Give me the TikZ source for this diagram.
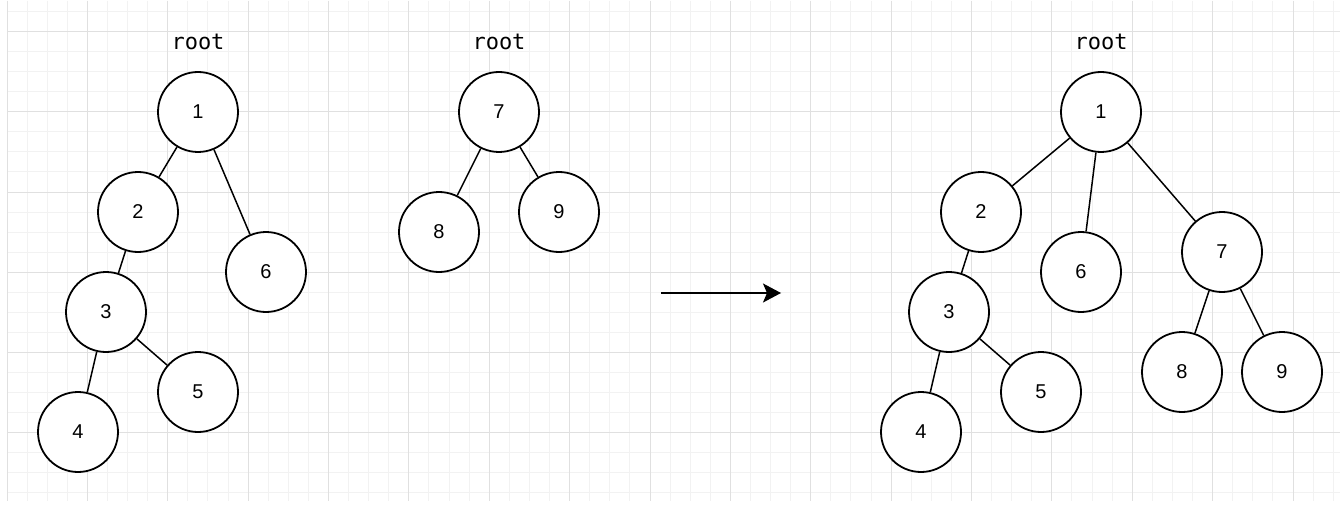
\documentclass[tikz,border=0pt]{standalone}
\usepackage{fontspec}
\setmainfont{Liberation Sans}
\newfontfamily\rootfont{DejaVu Sans Mono}
\usetikzlibrary{arrows.meta}
\definecolor{gridminor}{HTML}{F2F2F2}
\definecolor{gridmajor}{HTML}{E0E0E0}
\tikzset{
  tnode/.style={circle, draw=black, line width=1.8pt, fill=white, minimum size=80pt, inner sep=0pt, font=\fontsize{20}{24}\selectfont},
  rootlbl/.style={inner sep=0pt, font=\rootfont\fontsize{22}{26}\selectfont},
  edge/.style={line width=1.5pt, draw=black},
}
\begin{document}
\begin{tikzpicture}[x=1pt,y=-1pt]
\useasboundingbox (0,0) rectangle (1340,505);
\fill[white] (0,0) rectangle (1340,505);
% grid
\foreach \i in {0,...,66} {
  \pgfmathsetmacro{\xx}{7+\i*20.094}
  \pgfmathtruncatemacro{\m}{mod(\i,4)}
  \ifnum\m=0
    \draw[gridmajor, line width=1pt] (\xx,1) -- (\xx,501);
  \else
    \draw[gridminor, line width=1pt] (\xx,1) -- (\xx,501);
  \fi
}
\foreach \j in {0,...,24} {
  \pgfmathsetmacro{\yy}{12+\j*20}
  \pgfmathtruncatemacro{\m}{mod(\j+3,4)}
  \ifnum\m=0
    \draw[gridmajor, line width=1pt] (7,\yy) -- (1340,\yy);
  \else
    \draw[gridminor, line width=1pt] (7,\yy) -- (1340,\yy);
  \fi
}
\foreach \i in {0,4,...,64} {
  \pgfmathsetmacro{\xx}{7+\i*20.094}
  \draw[gridmajor, line width=1pt] (\xx,1) -- (\xx,501);
}

% left tree
\node[rootlbl] (r1) at (198,42) {root};
\node[tnode] (a1) at (198,112) {1};
\node[tnode] (a2) at (138,212) {2};
\node[tnode] (a6) at (266,272) {6};
\node[tnode] (a3) at (106,312) {3};
\node[tnode] (a5) at (198,392) {5};
\node[tnode] (a4) at (78,432) {4};
\draw[edge] (a1) -- (a2);
\draw[edge] (a1) -- (a6);
\draw[edge] (a2) -- (a3);
\draw[edge] (a3) -- (a4);
\draw[edge] (a3) -- (a5);

% middle tree
\node[rootlbl] (r2) at (499,42) {root};
\node[tnode] (b7) at (499,112) {7};
\node[tnode] (b8) at (439,232) {8};
\node[tnode] (b9) at (559,212) {9};
\draw[edge] (b7) -- (b8);
\draw[edge] (b7) -- (b9);

% arrow
\coordinate (as) at (661,293);
\coordinate (ae) at (781,293);
\draw[line width=1.5pt, -{Stealth[length=18pt, width=19pt, inset=4pt]}] (as) -- (ae);

% right tree
\node[rootlbl] (r3) at (1101,42) {root};
\node[tnode] (c1) at (1101,112) {1};
\node[tnode] (c2) at (981,212) {2};
\node[tnode] (c6) at (1081,272) {6};
\node[tnode] (c7) at (1222,252) {7};
\node[tnode] (c3) at (949,312) {3};
\node[tnode] (c5) at (1041,392) {5};
\node[tnode] (c4) at (921,432) {4};
\node[tnode] (c8) at (1182,372) {8};
\node[tnode] (c9) at (1282,372) {9};
\draw[edge] (c1) -- (c2);
\draw[edge] (c1) -- (c6);
\draw[edge] (c1) -- (c7);
\draw[edge] (c2) -- (c3);
\draw[edge] (c3) -- (c4);
\draw[edge] (c3) -- (c5);
\draw[edge] (c7) -- (c8);
\draw[edge] (c7) -- (c9);
\end{tikzpicture}
\end{document}
